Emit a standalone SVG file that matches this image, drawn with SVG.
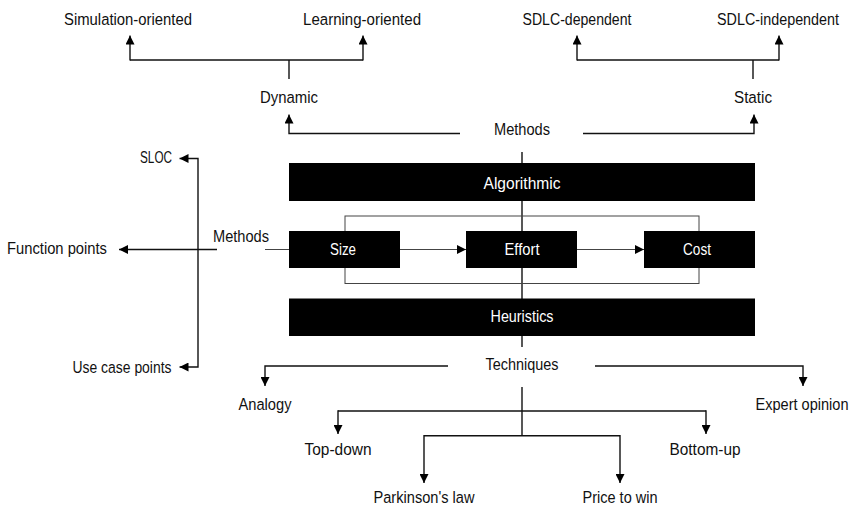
<svg xmlns="http://www.w3.org/2000/svg" width="857" height="510" viewBox="0 0 857 510">
  <style>
    text { font-family: "Liberation Sans", Arial, sans-serif; font-size: 17px; text-anchor: middle; fill: #111; }
    .box { fill: #000; }
    .box-label { fill: #fff; }
    .wire { fill: none; stroke: #111; stroke-width: 1.4; }
    .thin { fill: none; stroke: #444; stroke-width: 1; }
    .arrow { marker-end: url(#head); }
  </style>
  <defs>
    <marker id="head" viewBox="0 0 10 10" refX="10" refY="5" markerWidth="9" markerHeight="9" markerUnits="userSpaceOnUse" orient="auto">
      <path d="M0,0 L10,5 L0,10 z" fill="#000"/>
    </marker>
  </defs>

  <rect width="857" height="510" fill="#fff"/>

  <!-- connectors -->
  <g id="connectors">
    <!-- Dynamic branches -->
    <path class="wire" d="M289,79 V60"/>
    <path class="wire" d="M130,60 H363"/>
    <path class="wire arrow" d="M130,60.5 V35.5"/>
    <path class="wire arrow" d="M363,60.5 V35.5"/>
    <!-- Static branches -->
    <path class="wire" d="M753,79 V60"/>
    <path class="wire" d="M577,60 H779"/>
    <path class="wire arrow" d="M577,60.5 V35.5"/>
    <path class="wire arrow" d="M779,60.5 V35.5"/>
    <!-- Methods to Dynamic / Static -->
    <path class="wire arrow" d="M460,133.5 H289 V114.5"/>
    <path class="wire arrow" d="M583,133.5 H754 V114.5"/>
    <!-- central spine -->
    <path class="wire" d="M522,152 V347"/>
    <!-- size/effort/cost frame -->
    <rect class="thin" x="345" y="216" width="354" height="67.5"/>
    <!-- Size -> Effort -> Cost -->
    <path class="thin arrow" d="M400,249.5 H466"/>
    <path class="thin arrow" d="M577,249.5 H644"/>
    <!-- size methods -->
    <path class="thin" d="M265,249.5 H289"/>
    <path class="wire arrow" d="M217,249.5 H119"/>
    <path class="wire arrow" d="M198,249.5 V158.5 H179.5"/>
    <path class="wire arrow" d="M198,249.5 V367 H179.5"/>
    <!-- techniques -->
    <path class="wire arrow" d="M448,366 H265 V386"/>
    <path class="wire arrow" d="M595,366 H803 V386"/>
    <path class="wire" d="M522,387 V436"/>
    <path class="wire" d="M338,411 H706"/>
    <path class="wire arrow" d="M338,410.3 V434"/>
    <path class="wire arrow" d="M706,410.3 V434"/>
    <path class="wire" d="M424,435.7 H620"/>
    <path class="wire arrow" d="M424,435 V483"/>
    <path class="wire arrow" d="M620,435 V483"/>
  </g>

  <!-- labels are set narrow: each is placed by translate and squeezed horizontally -->
  <!-- top level -->
  <g id="methods-top"><text transform="translate(522 135) scale(0.85 1)" textLength="65.9" lengthAdjust="spacingAndGlyphs">Methods</text></g>
  <g id="dynamic"><text transform="translate(289 103) scale(0.85 1)" textLength="68.2" lengthAdjust="spacingAndGlyphs">Dynamic</text></g>
  <g id="static"><text transform="translate(753 103) scale(0.85 1)" textLength="44.7" lengthAdjust="spacingAndGlyphs">Static</text></g>
  <g id="simulation-oriented"><text transform="translate(128 25) scale(0.85 1)" textLength="150.6" lengthAdjust="spacingAndGlyphs">Simulation-oriented</text></g>
  <g id="learning-oriented"><text transform="translate(362 25) scale(0.85 1)" textLength="138.8" lengthAdjust="spacingAndGlyphs">Learning-oriented</text></g>
  <g id="sdlc-dependent"><text transform="translate(577 25) scale(0.85 1)" textLength="128.2" lengthAdjust="spacingAndGlyphs">SDLC-dependent</text></g>
  <g id="sdlc-independent"><text transform="translate(778 25) scale(0.85 1)" textLength="143.5" lengthAdjust="spacingAndGlyphs">SDLC-independent</text></g>

  <!-- bars and boxes -->
  <g id="algorithmic">
    <rect class="box" x="289" y="163" width="466" height="38"/>
    <text class="box-label" transform="translate(522 189) scale(0.85 1)" textLength="90.6" lengthAdjust="spacingAndGlyphs">Algorithmic</text>
  </g>
  <g id="size">
    <rect class="box" x="289" y="231" width="111" height="37"/>
    <text class="box-label" transform="translate(343 255) scale(0.85 1)" textLength="30.6" lengthAdjust="spacingAndGlyphs">Size</text>
  </g>
  <g id="effort">
    <rect class="box" x="466" y="231" width="111" height="37"/>
    <text class="box-label" transform="translate(522 255) scale(0.85 1)" textLength="41.2" lengthAdjust="spacingAndGlyphs">Effort</text>
  </g>
  <g id="cost">
    <rect class="box" x="644" y="231" width="111" height="37"/>
    <text class="box-label" transform="translate(697 255) scale(0.85 1)" textLength="32.9" lengthAdjust="spacingAndGlyphs">Cost</text>
  </g>
  <g id="heuristics">
    <rect class="box" x="289" y="298.5" width="466" height="37.5"/>
    <text class="box-label" transform="translate(522 322) scale(0.85 1)" textLength="74.1" lengthAdjust="spacingAndGlyphs">Heuristics</text>
  </g>

  <!-- size methods -->
  <g id="methods-left"><text transform="translate(241 242) scale(0.85 1)" textLength="65.9" lengthAdjust="spacingAndGlyphs">Methods</text></g>
  <g id="sloc"><text transform="translate(156 163) scale(0.85 1)" textLength="37.6" lengthAdjust="spacingAndGlyphs">SLOC</text></g>
  <g id="function-points"><text transform="translate(57 254) scale(0.85 1)" textLength="117.6" lengthAdjust="spacingAndGlyphs">Function points</text></g>
  <g id="use-case-points"><text transform="translate(122 373) scale(0.85 1)" textLength="116.5" lengthAdjust="spacingAndGlyphs">Use case points</text></g>

  <!-- techniques -->
  <g id="techniques"><text transform="translate(522 370) scale(0.85 1)" textLength="85.9" lengthAdjust="spacingAndGlyphs">Techniques</text></g>
  <g id="analogy"><text transform="translate(265 410) scale(0.85 1)" textLength="62.4" lengthAdjust="spacingAndGlyphs">Analogy</text></g>
  <g id="expert-opinion"><text transform="translate(802 410) scale(0.85 1)" textLength="109.4" lengthAdjust="spacingAndGlyphs">Expert opinion</text></g>
  <g id="top-down"><text transform="translate(338 455) scale(0.85 1)" textLength="78.8" lengthAdjust="spacingAndGlyphs">Top-down</text></g>
  <g id="bottom-up"><text transform="translate(705 455) scale(0.85 1)" textLength="83.5" lengthAdjust="spacingAndGlyphs">Bottom-up</text></g>
  <g id="parkinsons-law"><text transform="translate(424 503) scale(0.85 1)" textLength="118.8" lengthAdjust="spacingAndGlyphs">Parkinson's law</text></g>
  <g id="price-to-win"><text transform="translate(620 503) scale(0.85 1)" textLength="88.2" lengthAdjust="spacingAndGlyphs">Price to win</text></g>
</svg>
